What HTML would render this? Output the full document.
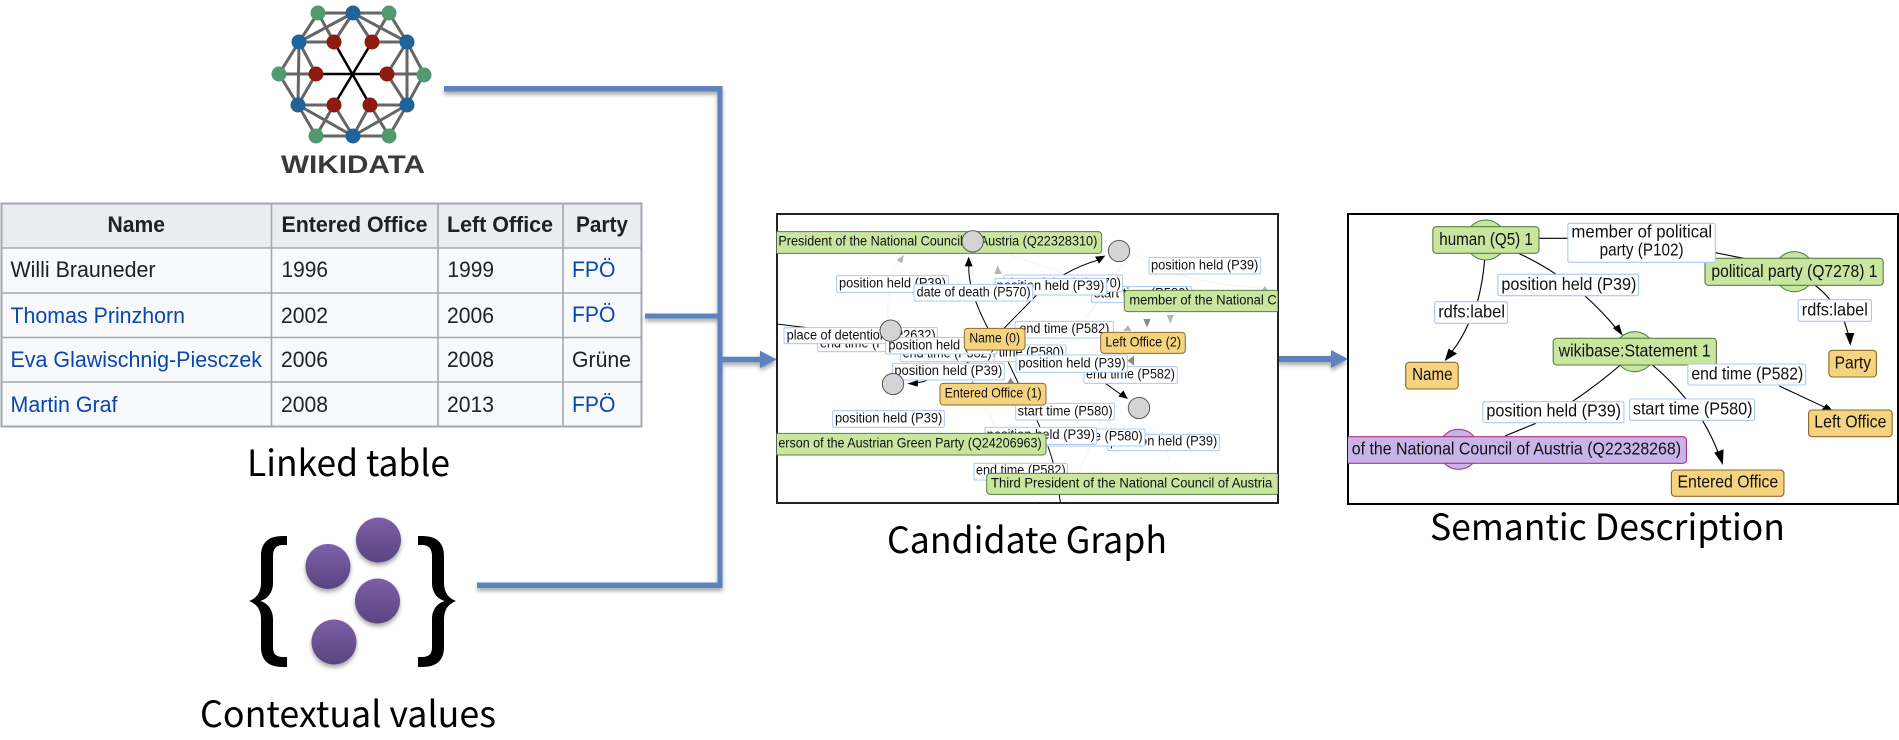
<!DOCTYPE html>
<html><head><meta charset="utf-8"><style>
html,body{margin:0;padding:0;background:#fff}
svg{display:block}
text{font-family:"Liberation Sans",sans-serif;fill:#111}
.cap{font-family:"Noto Sans CJK JP","Liberation Sans",sans-serif;font-size:36px;fill:#000}
.th{font-size:22px;font-weight:bold;fill:#202122}
.td{font-size:22px;fill:#202122}
.a{font-size:22px;fill:#0b46ad}
.l{fill:#fff;stroke:#a9c8f6;stroke-width:3}
.g{fill:#c8e6a0;stroke:#5d8040;stroke-width:3}
.o{fill:#f6d37f;stroke:#8c6a32;stroke-width:3}
.n{fill:#d4d4d4;stroke:#555;stroke-width:3}
.c text{font-size:41px}
.c .e{fill:none;stroke:#000;stroke-width:3}
.c .f{fill:none;stroke:#f3f3f3;stroke-width:3}
.s text{font-size:53px}
.s .e{fill:none;stroke:#000;stroke-width:3.2}
.s .g,.s .o,.s .p,.s .l{stroke-width:3.2}
.p{fill:#c9b4ea;stroke:#b0357f}
</style></head><body>
<svg xmlns="http://www.w3.org/2000/svg" width="1899" height="740" viewBox="0 0 1899 740">
<defs>
<linearGradient id="dot" x1="0" y1="0" x2="0" y2="1"><stop offset="0" stop-color="#7c5fa8"/><stop offset="1" stop-color="#5a4580"/></linearGradient>
<filter id="sh" x="-20%" y="-20%" width="140%" height="140%"><feDropShadow dx="0" dy="3" stdDeviation="2" flood-color="#000" flood-opacity=".35"/></filter>
<clipPath id="cc"><rect x="20" y="28" width="1503" height="866"/></clipPath>
<clipPath id="cs"><rect x="22" y="28" width="1543" height="866"/></clipPath>
</defs>

<!-- logo -->
<g stroke="#666" stroke-width="3" fill="none">
<path d="M318 13H389M318 13L299 42L279 74L298 105L316 136H389L407 105L424 74L407 42L389 13M299 42L298 105M407 42V105M299 42L353 13L407 42M298 105L353 136L407 105M299 42H334M372 42H407M298 105H334M370 105H407M279 74H316M387 74H424M318 13L334 42M389 13L372 42M316 136L334 105M389 136L370 105M353 13L334 42M353 13L372 42M353 136L334 105M353 136L370 105M299 42L316 74M407 42L387 74M298 105L316 74M407 105L387 74"/>
</g>
<path d="M334 42L370 105M372 42L334 105M316 74H387" stroke="#000" stroke-width="2.5" fill="none"/>
<g fill="#4f9a6e"><circle cx="318" cy="13" r="7.5"/><circle cx="389" cy="13" r="7.5"/><circle cx="279" cy="74" r="7.5"/><circle cx="424" cy="75" r="7.5"/><circle cx="316" cy="136" r="7.5"/><circle cx="389" cy="136" r="7.5"/></g>
<g fill="#1f6399"><circle cx="353" cy="13" r="7.5"/><circle cx="299" cy="42" r="7.5"/><circle cx="407" cy="42" r="7.5"/><circle cx="298" cy="105" r="7.5"/><circle cx="407" cy="105" r="7.5"/><circle cx="353" cy="136" r="7.5"/></g>
<g fill="#8e1a12"><circle cx="334" cy="42" r="7.5"/><circle cx="372" cy="42" r="7.5"/><circle cx="316" cy="74" r="7.5"/><circle cx="387" cy="74" r="7.5"/><circle cx="334" cy="105" r="7.5"/><circle cx="370" cy="105" r="7.5"/></g>
<text x="281" y="173" font-size="25" font-weight="bold" textLength="144" lengthAdjust="spacingAndGlyphs" style="fill:#3a3a3a">WIKIDATA</text>

<!-- table -->
<rect x="1.5" y="203.5" width="640" height="223" fill="#f8f9fa" stroke="#a2a9b1" stroke-width="2"/>
<rect x="2.5" y="204.5" width="638" height="43" fill="#eaecf0"/>
<path d="M271.5 204V427M438 204V427M563 204V427M2 248H641M2 293H641M2 337.5H641M2 382H641" stroke="#a2a9b1" stroke-width="1.6" fill="none"/>
<text class="th" x="107.5" y="232" textLength="57.5" lengthAdjust="spacingAndGlyphs">Name</text>
<text class="th" x="281.5" y="232" textLength="146" lengthAdjust="spacingAndGlyphs">Entered Office</text>
<text class="th" x="447" y="232" textLength="106" lengthAdjust="spacingAndGlyphs">Left Office</text>
<text class="th" x="576" y="232" textLength="52" lengthAdjust="spacingAndGlyphs">Party</text>
<text class="td" x="10.5" y="277" textLength="145" lengthAdjust="spacingAndGlyphs">Willi Brauneder</text>
<text class="td" x="281.5" y="277" textLength="46.5" lengthAdjust="spacingAndGlyphs">1996</text>
<text class="td" x="447.5" y="277" textLength="46.5" lengthAdjust="spacingAndGlyphs">1999</text>
<text class="a" x="572" y="277" textLength="43.5" lengthAdjust="spacingAndGlyphs">FPÖ</text>
<text class="a" x="10.5" y="323" textLength="174.5" lengthAdjust="spacingAndGlyphs">Thomas Prinzhorn</text>
<text class="td" x="281" y="323" textLength="47" lengthAdjust="spacingAndGlyphs">2002</text>
<text class="td" x="447" y="323" textLength="47" lengthAdjust="spacingAndGlyphs">2006</text>
<text class="a" x="572" y="322" textLength="43.5" lengthAdjust="spacingAndGlyphs">FPÖ</text>
<text class="a" x="10.5" y="367" textLength="251.5" lengthAdjust="spacingAndGlyphs">Eva Glawischnig-Piesczek</text>
<text class="td" x="281" y="367" textLength="47" lengthAdjust="spacingAndGlyphs">2006</text>
<text class="td" x="447" y="367" textLength="47" lengthAdjust="spacingAndGlyphs">2008</text>
<text class="td" x="572" y="367" textLength="59" lengthAdjust="spacingAndGlyphs">Grüne</text>
<text class="a" x="10.5" y="412" textLength="107" lengthAdjust="spacingAndGlyphs">Martin Graf</text>
<text class="td" x="281" y="412" textLength="47" lengthAdjust="spacingAndGlyphs">2008</text>
<text class="td" x="447" y="412" textLength="47" lengthAdjust="spacingAndGlyphs">2013</text>
<text class="a" x="572" y="412" textLength="43.5" lengthAdjust="spacingAndGlyphs">FPÖ</text>

<!-- captions -->
<text class="cap" x="247" y="476" textLength="203" lengthAdjust="spacingAndGlyphs">Linked table</text>
<text class="cap" x="200" y="727" textLength="296" lengthAdjust="spacingAndGlyphs">Contextual values</text>
<text class="cap" x="887" y="553" textLength="280" lengthAdjust="spacingAndGlyphs">Candidate Graph</text>
<text class="cap" x="1430" y="540" textLength="355" lengthAdjust="spacingAndGlyphs">Semantic Description</text>

<!-- braces and dots -->
<path d="M287 536H283C268 536 261 543 261 556V583C261 592 257 598 249 601C257 604 261 610 261 619V647C261 660 268 667 283 667H287V657H283C276 657 273 654 273 647V619C273 610 268 603 260 601C268 599 273 592 273 583V556C273 549 276 545 283 545H287Z" fill="#000"/>
<path transform="translate(705,0) scale(-1,1)" d="M287 536H283C268 536 261 543 261 556V583C261 592 257 598 249 601C257 604 261 610 261 619V647C261 660 268 667 283 667H287V657H283C276 657 273 654 273 647V619C273 610 268 603 260 601C268 599 273 592 273 583V556C273 549 276 545 283 545H287Z" fill="#000"/>
<g fill="url(#dot)" filter="url(#sh)">
<ellipse cx="328" cy="566.5" rx="22.5" ry="22.5"/><ellipse cx="378.5" cy="540" rx="22.5" ry="22.5"/><ellipse cx="377.5" cy="601" rx="22.5" ry="22.5"/><ellipse cx="334" cy="642" rx="22.5" ry="22.5"/>
</g>

<!-- connectors -->
<g filter="url(#sh)" fill="#5b83bf" stroke="none">
<path d="M444 86H722.5V356.7H760V350.7L777 359.5L760 368V362.3H722.5V588H477V582.5H717.5V91.5H444Z"/>
<rect x="645" y="313.5" width="73" height="5"/>
<path d="M1277 356H1331V350L1348 359L1331 368V362H1277Z"/>
</g>

<!-- candidate box -->
<rect x="777" y="214" width="501" height="289" fill="#fff" stroke="#222" stroke-width="2"/>
<g class="c" transform="translate(770,205) scale(.33333)" clip-path="url(#cc)">
<path class="f" d="M355 340Q345 230 390 160M720 150Q880 200 1000 260M1080 140Q1020 250 900 400M1090 145Q1200 230 1480 250M370 570V680M1107 640Q1180 700 1200 770M1020 600Q950 720 900 890M780 430Q950 400 1070 370M640 600Q720 730 800 890"/>
<g fill="#b5b5b5"><path d="M402 150L380 165L396 175Z"/><path d="M1074 360L1060 378H1084Z"/><path d="M1485 243L1472 262H1498Z"/><path d="M683 180L673 207H695Z"/><path d="M340 236L330 252H350Z"/><path d="M1190 330H1212L1201 356Z"/><path d="M608 527L598 540H618Z"/></g>
<g fill="#8a8a8a"><path d="M1120 342H1142L1131 368Z"/><path d="M1092 452V482L1072 467Z"/><path d="M722 518L708 540H736Z"/></g>
<path class="e" d="M20 357L110 368"/>
<path class="e" d="M655 372Q590 250 597 175"/>
<path d="M596 155L584 184H608Z"/>
<path class="e" d="M700 372L800 270Q880 195 985 165"/>
<path d="M1006 152L975 155L987 176Z"/>
<path class="e" d="M640 435L590 475L460 530L430 536"/>
<path d="M412 536L445 525L443 545Z"/>
<path class="e" d="M760 425L830 445L985 520L1055 570"/>
<path d="M1074 582L1060 556L1045 574Z"/>
<path class="e" d="M700 440L745 535L780 605Q830 700 850 775L872 895"/>

<rect class="l" x="143" y="395" width="307" height="45" rx="4"/><text x="150" y="428" textLength="270" lengthAdjust="spacingAndGlyphs">end time (P582)</text>
<rect class="l" x="42" y="368" width="460" height="48" rx="4"/><text x="50" y="403" textLength="447" lengthAdjust="spacingAndGlyphs">place of detention (P2632)</text>
<rect class="l" x="200" y="212" width="335" height="50" rx="4"/><text x="207" y="248" textLength="321" lengthAdjust="spacingAndGlyphs">position held (P39)</text>
<rect class="l" x="1137" y="157" width="335" height="50" rx="4"/><text x="1143" y="193" textLength="322" lengthAdjust="spacingAndGlyphs">position held (P39)</text>
<rect class="l" x="965" y="245" width="300" height="48" rx="4"/><text x="972" y="278" textLength="287" lengthAdjust="spacingAndGlyphs">start time (P580)</text>
<rect class="l" x="702" y="210" width="356" height="50" rx="4"/><text x="708" y="247" textLength="345" lengthAdjust="spacingAndGlyphs">date of death (P570)</text>
<rect class="l" x="675" y="220" width="335" height="50" rx="4"/><text x="680" y="255" textLength="323" lengthAdjust="spacingAndGlyphs">position held (P39)</text>
<rect class="l" x="432" y="238" width="356" height="50" rx="4"/><text x="440" y="275" textLength="342" lengthAdjust="spacingAndGlyphs">date of death (P570)</text>
<rect class="l" x="735" y="349" width="295" height="50" rx="4"/><text x="748" y="384" textLength="270" lengthAdjust="spacingAndGlyphs">end time (P582)</text>
<rect class="l" x="595" y="420" width="293" height="50" rx="4"/><text x="602" y="455" textLength="280" lengthAdjust="spacingAndGlyphs">start time (P580)</text>
<rect class="l" x="392" y="425" width="280" height="45" rx="4"/><text x="398" y="458" textLength="267" lengthAdjust="spacingAndGlyphs">end time (P582)</text>
<rect class="l" x="347" y="397" width="333" height="50" rx="4"/><text x="355" y="433" textLength="320" lengthAdjust="spacingAndGlyphs">position held (P39)</text>
<rect class="l" x="942" y="485" width="280" height="50" rx="4"/><text x="948" y="520" textLength="267" lengthAdjust="spacingAndGlyphs">end time (P582)</text>
<rect class="l" x="738" y="450" width="334" height="52" rx="4"/><text x="745" y="487" textLength="322" lengthAdjust="spacingAndGlyphs">position held (P39)</text>
<rect class="l" x="367" y="475" width="336" height="50" rx="4"/><text x="373" y="510" textLength="324" lengthAdjust="spacingAndGlyphs">position held (P39)</text>
<rect class="l" x="737" y="595" width="296" height="50" rx="4"/><text x="743" y="632" textLength="285" lengthAdjust="spacingAndGlyphs">start time (P580)</text>
<rect class="l" x="188" y="617" width="335" height="50" rx="4"/><text x="195" y="652" textLength="322" lengthAdjust="spacingAndGlyphs">position held (P39)</text>
<rect class="l" x="1013" y="688" width="335" height="49" rx="4"/><text x="1020" y="722" textLength="322" lengthAdjust="spacingAndGlyphs">position held (P39)</text>
<rect class="l" x="830" y="672" width="295" height="51" rx="4"/><text x="836" y="707" textLength="282" lengthAdjust="spacingAndGlyphs">start time (P580)</text>
<rect class="l" x="645" y="667" width="335" height="51" rx="4"/><text x="650" y="702" textLength="325" lengthAdjust="spacingAndGlyphs">position held (P39)</text>
<rect class="l" x="612" y="775" width="280" height="50" rx="4"/><text x="618" y="808" textLength="269" lengthAdjust="spacingAndGlyphs">end time (P582)</text>

<rect class="g" x="-20" y="80" width="1015" height="65" rx="10"/><text x="25" y="121" textLength="957" lengthAdjust="spacingAndGlyphs">President of the National Council of Austria (Q22328310)</text>
<rect class="g" x="1063" y="256" width="500" height="64" rx="10"/><text x="1078" y="299" textLength="442" lengthAdjust="spacingAndGlyphs">member of the National C</text>
<rect class="g" x="-20" y="685" width="848" height="65" rx="10"/><text x="25" y="728" textLength="790" lengthAdjust="spacingAndGlyphs">erson of the Austrian Green Party (Q24206963)</text>
<rect class="g" x="650" y="805" width="900" height="63" rx="10"/><text x="663" y="847" textLength="844" lengthAdjust="spacingAndGlyphs">Third President of the National Council of Austria</text>
<rect class="o" x="583" y="370" width="182" height="65" rx="10"/><text x="598" y="413" textLength="152" lengthAdjust="spacingAndGlyphs">Name (0)</text>
<rect class="o" x="992" y="382" width="254" height="63" rx="10"/><text x="1006" y="425" textLength="227" lengthAdjust="spacingAndGlyphs">Left Office (2)</text>
<rect class="o" x="510" y="535" width="318" height="65" rx="10"/><text x="524" y="578" textLength="291" lengthAdjust="spacingAndGlyphs">Entered Office (1)</text>
<circle class="n" cx="608" cy="109" r="32"/><circle class="n" cx="1047" cy="138" r="32"/><circle class="n" cx="362" cy="377" r="32"/><circle class="n" cx="369" cy="537" r="32"/><circle class="n" cx="1107" cy="609" r="32"/>
</g>

<!-- semantic box -->
<rect x="1348" y="214" width="550" height="290" fill="#fff" stroke="#000" stroke-width="2"/>
<g class="s" transform="translate(1340,205) scale(.35714,.33333)" clip-path="url(#cs)">
<path class="e" d="M557 100H638M1051 143L1130 160M500 145Q555 172 605 208M685 272Q735 320 775 372M405 165Q400 230 385 290M360 355Q335 415 305 450M1330 241Q1352 258 1372 284M1412 349Q1420 375 1425 395M785 480Q720 540 650 590M548 655L462 693M875 480Q925 525 968 581M1015 646Q1045 700 1065 760M1230 543L1360 608"/>
<g fill="#000"><path d="M792 393L764 369L782 358Z"/><path d="M293 468L304 431L328 446Z"/><path d="M1429 422L1414 384L1440 384Z"/><path d="M1072 780L1048 743L1074 733Z"/><path d="M1378 615L1348 615L1362 597Z"/></g>
<ellipse class="g" cx="408" cy="105" rx="56" ry="60"/><ellipse class="g" cx="1272" cy="200" rx="56" ry="60"/><ellipse class="g" cx="825" cy="440" rx="56" ry="60"/><ellipse class="p" cx="332" cy="733" rx="56" ry="60" stroke-width="3.2"/>
<rect class="g" x="260" y="65" width="297" height="80" rx="10"/><text x="278" y="120" textLength="262" lengthAdjust="spacingAndGlyphs">human (Q5) 1</text>
<rect class="g" x="1022" y="160" width="499" height="81" rx="10"/><text x="1040" y="216" textLength="465" lengthAdjust="spacingAndGlyphs">political party (Q7278) 1</text>
<rect class="g" x="597" y="400" width="457" height="80" rx="10"/><text x="612" y="455" textLength="426" lengthAdjust="spacingAndGlyphs">wikibase:Statement 1</text>
<rect class="p" x="-30" y="695" width="1000" height="80" rx="10" stroke-width="3.2"/><text x="33" y="748" textLength="922" lengthAdjust="spacingAndGlyphs">of the National Council of Austria (Q22328268)</text>
<rect class="o" x="184" y="472" width="147" height="80" rx="10"/><text x="202" y="525" textLength="113" lengthAdjust="spacingAndGlyphs">Name</text>
<rect class="o" x="1369" y="436" width="133" height="80" rx="10"/><text x="1385" y="490" textLength="102" lengthAdjust="spacingAndGlyphs">Party</text>
<rect class="o" x="1312" y="615" width="234" height="80" rx="10"/><text x="1328" y="668" textLength="202" lengthAdjust="spacingAndGlyphs">Left Office</text>
<rect class="o" x="928" y="795" width="315" height="79" rx="10"/><text x="945" y="847" textLength="282" lengthAdjust="spacingAndGlyphs">Entered Office</text>
<rect class="l" x="638" y="55" width="413" height="117" rx="5"/><text x="648" y="98" textLength="394" lengthAdjust="spacingAndGlyphs">member of political</text><text x="727" y="152" textLength="235" lengthAdjust="spacingAndGlyphs">party (P102)</text>
<rect class="l" x="442" y="208" width="394" height="64" rx="5"/><text x="452" y="255" textLength="378" lengthAdjust="spacingAndGlyphs">position held (P39)</text>
<rect class="l" x="265" y="290" width="204" height="65" rx="5"/><text x="275" y="337" textLength="187" lengthAdjust="spacingAndGlyphs">rdfs:label</text>
<rect class="l" x="1283" y="284" width="205" height="65" rx="5"/><text x="1293" y="331" textLength="185" lengthAdjust="spacingAndGlyphs">rdfs:label</text>
<rect class="l" x="974" y="477" width="330" height="63" rx="5"/><text x="984" y="523" textLength="313" lengthAdjust="spacingAndGlyphs">end time (P582)</text>
<rect class="l" x="400" y="590" width="395" height="63" rx="5"/><text x="410" y="635" textLength="377" lengthAdjust="spacingAndGlyphs">position held (P39)</text>
<rect class="l" x="811" y="582" width="350" height="64" rx="5"/><text x="820" y="628" textLength="335" lengthAdjust="spacingAndGlyphs">start time (P580)</text>
</g>
</svg>
</body></html>
